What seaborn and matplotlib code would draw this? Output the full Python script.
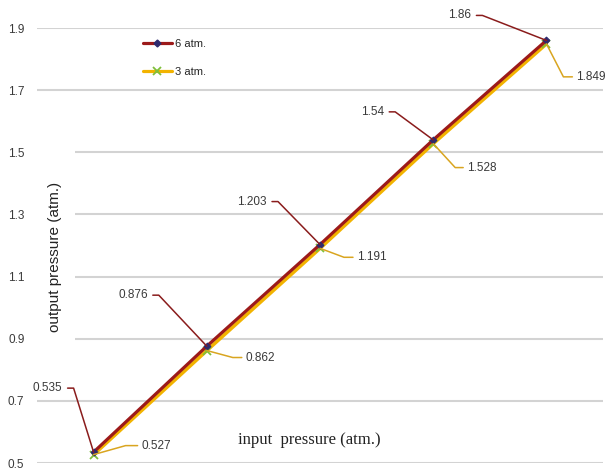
import matplotlib
matplotlib.use("Agg")
import matplotlib.pyplot as plt
import seaborn as sns
import pandas as pd
from matplotlib.lines import Line2D
from matplotlib.patches import Rectangle
from matplotlib.transforms import IdentityTransform

# ---- data ----
positions = [1, 2, 3, 4, 5]
atm6 = [0.535, 0.876, 1.203, 1.54, 1.86]
atm3 = [0.527, 0.862, 1.191, 1.528, 1.849]
labels6 = ["0.535", "0.876", "1.203", "1.54", "1.86"]
labels3 = ["0.527", "0.862", "1.191", "1.528", "1.849"]
series_names = ["6 atm.", "3 atm."]
y_ticks = [0.5, 0.7, 0.9, 1.1, 1.3, 1.5, 1.7, 1.9]

df = pd.DataFrame({
    "x": positions * 2,
    "y": atm6 + atm3,
    "series": [series_names[0]] * 5 + [series_names[1]] * 5,
})

sns.set_theme(style="white")
plt.rcParams["font.family"] = ["Liberation Sans", "DejaVu Sans"]

RED = "#9c1a1a"
GOLD = "#f2b300"
NAVY = "#2e2a6e"
GREEN = "#7fbf3a"
TXT = "#3a3a3a"

fig = plt.figure(figsize=(6.06, 4.72), dpi=100)
W, H = 606, 472
ax_l, ax_r, ax_t, ax_b = 37, 603, 28, 463
ax = fig.add_axes([ax_l / W, 1 - ax_b / H, (ax_r - ax_l) / W, (ax_b - ax_t) / H])

# draw gold first, red on top
sns.lineplot(data=df[df.series == series_names[1]], x="x", y="y", ax=ax,
             color=GOLD, lw=2.6, marker="x", markersize=5.5, markeredgewidth=1.3,
             markeredgecolor=GREEN, legend=False, zorder=4)
sns.lineplot(data=df[df.series == series_names[0]], x="x", y="y", ax=ax,
             color=RED, lw=2.3, marker="D", markersize=3.5, markerfacecolor=NAVY,
             markeredgecolor=NAVY, legend=False, zorder=5)

ax.set_xlim(0.5, 5.5)
ax.set_ylim(0.5, 1.9)
ax.set_yticks(y_ticks)
ax.set_yticklabels([f"{v:.1f}" for v in y_ticks], fontsize=8.5, color=TXT)
ax.tick_params(axis="y", length=0, pad=9)
ax.set_xticks([])
ax.set_xlabel("")
ax.set_ylabel("")
for s in ax.spines.values():
    s.set_visible(False)
ax.yaxis.grid(True, color="#d3d3d3", lw=1.5, zorder=0)
ax.set_axisbelow(True)

# white box behind y label (hides grid start)
ax.add_patch(Rectangle((0, 0.2), (75 - ax_l) / (ax_r - ax_l), 0.55,
                       transform=ax.transAxes, facecolor="white",
                       edgecolor="none", zorder=1))
ax.text((55 - ax_l) / (ax_r - ax_l), (ax_b - 257) / (ax_b - ax_t),
        "output pressure (atm.)", transform=ax.transAxes, rotation=90,
        ha="center", va="center", fontsize=11, color="#222222", zorder=2)
ax.text((238 - ax_l) / (ax_r - ax_l), (ax_b - 440) / (ax_b - ax_t),
        "input  pressure (atm.)", transform=ax.transAxes, ha="left",
        va="center", fontsize=12, color="#222222",
        family=["Liberation Serif", "DejaVu Serif"], zorder=2)

# data labels with leader lines (offsets in pixels)
off6 = [(-31, 64), (-59, 51), (-53, 43), (-49, 28), (-75, 25)]
off3 = [(48, 9), (39, -7), (37, -9), (34, -24), (30, -33)]
corner3 = [(32, 9), (26, -7), (24, -9), (22, -24), (17, -33)]

fig.canvas.draw()
for i, (x, y) in enumerate(zip(positions, atm6)):
    px, py = ax.transData.transform((x, y))
    dx, dy = off6[i]
    fig.add_artist(Line2D([px + dx + 5, px + dx + 11, px], [py + dy, py + dy, py],
                          transform=IdentityTransform(), color="#8a1c1c", lw=1.1, zorder=6))
    fig.text((px + dx) / W, (py + dy) / H, labels6[i], ha="right", va="center",
             fontsize=8.5, color=TXT)
for i, (x, y) in enumerate(zip(positions, atm3)):
    px, py = ax.transData.transform((x, y))
    dx, dy = off3[i]
    cx, cy = corner3[i]
    fig.add_artist(Line2D([px, px + cx, px + dx - 4], [py, py + cy, py + dy],
                          transform=IdentityTransform(), color="#d9a520", lw=1.1, zorder=6))
    fig.text((px + dx) / W, (py + dy) / H, labels3[i], ha="left", va="center",
             fontsize=8.5, color=TXT)

# legend
handles = [
    Line2D([], [], color=RED, lw=2.3, marker="D", markersize=3.5,
           markerfacecolor=NAVY, markeredgecolor=NAVY),
    Line2D([], [], color=GOLD, lw=2.3, marker="x", markersize=5.5,
           markeredgewidth=1.3, markeredgecolor=GREEN),
]
ax.legend(handles, series_names, loc="upper left",
          bbox_to_anchor=((143 - ax_l) / (ax_r - ax_l), (ax_b - 39) / (ax_b - ax_t)),
          frameon=False, fontsize=8, handlelength=2.6, handletextpad=0.25,
          labelspacing=1.6, borderpad=0, borderaxespad=0)

fig.savefig("out.png", dpi=100)
